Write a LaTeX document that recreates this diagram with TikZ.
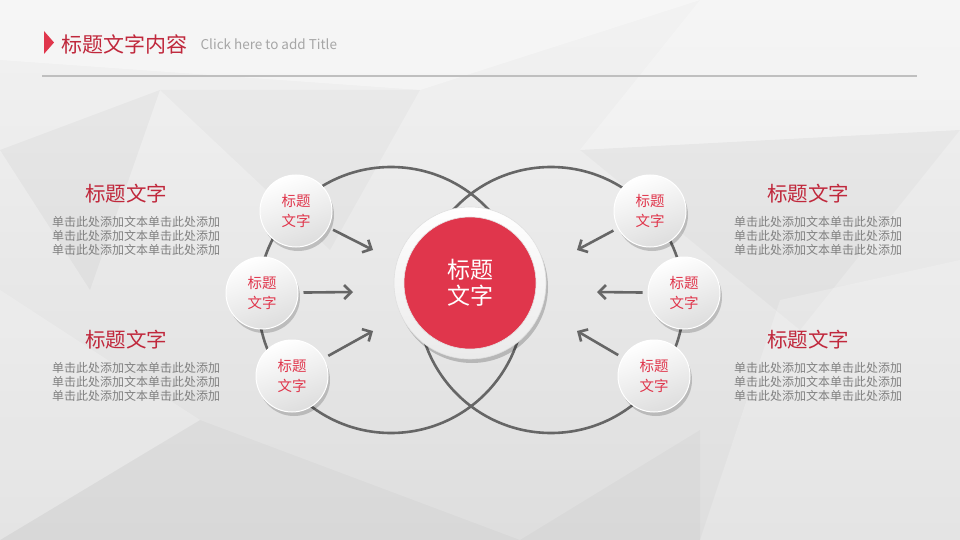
\documentclass[tikz,border=0pt]{standalone}
\usepackage{fontspec}
\setmainfont{Noto Sans CJK SC}
\definecolor{myred}{RGB}{224,54,76}
\definecolor{mydarkred}{RGB}{192,40,60}
\definecolor{mygray}{RGB}{102,102,102}
\definecolor{mytext}{RGB}{128,128,128}
\usetikzlibrary{positioning,shadows,arrows.meta,calc}

\begin{document}
\begin{tikzpicture}[
  x=1pt, y=-1pt,
  ring/.style={draw=mygray, line width=2.6pt},
  arr/.style={draw=mygray, line width=2.6pt, -{Straight Barb[length=7pt,width=14pt,line width=2.6pt]}, shorten <=5pt},
  ball/.style={
    circle, minimum size=72pt, inner sep=0pt,
    top color=white, bottom color=black!13, shading angle=20,
    draw=white, line width=1pt,
    drop shadow={shadow xshift=2pt, shadow yshift=-4pt, opacity=0.18, fill=black},
    text=myred, font=\fontsize{14.5}{19.5}\selectfont, align=center
    },
  head/.style={text=mydarkred, font=\fontsize{20.5}{24}\selectfont},
  body/.style={text=mytext, font=\fontsize{12}{14}\selectfont, align=center}
]
\useasboundingbox (0,0) rectangle (960,540);

% background
\shade[top color=black!5, bottom color=black!13] (0,0) rectangle (960,540);
\fill[white, opacity=0.35] (0,0) -- (700,0) -- (420,90) -- (0,60) -- cycle;
\fill[white, opacity=0.25] (700,0) -- (960,0) -- (960,130) -- (580,150) -- cycle;
\fill[black, opacity=0.025] (160,90) -- (420,90) -- (330,250) -- cycle;
\fill[black, opacity=0.03] (0,150) -- (160,90) -- (90,290) -- cycle;
\fill[black, opacity=0.025] (580,150) -- (960,130) -- (800,330) -- cycle;
\fill[white, opacity=0.2] (0,290) -- (200,420) -- (0,540) -- cycle;
\fill[black, opacity=0.025] (200,420) -- (520,540) -- (0,540) -- cycle;
\fill[white, opacity=0.2] (780,300) -- (960,260) -- (960,540) -- (700,540) -- cycle;
\fill[black, opacity=0.025] (520,540) -- (700,430) -- (700,540) -- cycle;

% header
\fill[myred] (44,31) -- (54,42.5) -- (44,54) -- cycle;
\node[text=mydarkred, font=\fontsize{21}{24}\selectfont, anchor=west, inner sep=0pt] (title) at (61,44) {标题文字内容};
\node[anchor=west, inner sep=0pt, text=black!35, font=\fontsize{13.5}{15}\selectfont, right=13pt of title] (sub) {Click here to add Title};
\draw[black!25, line width=1.2pt] (42,76) -- (917,76);

% rings
\coordinate (lc) at (391,300);
\coordinate (rc) at (551,300);
\draw[ring] (lc) circle[radius=133];
\draw[ring] (rc) circle[radius=133];

% centre
\node[circle, minimum size=152pt, inner sep=0pt, top color=white, bottom color=black!8,
  draw=black!12, line width=0.6pt,
  drop shadow={shadow xshift=2pt, shadow yshift=-4pt, opacity=0.2, fill=black}] (c) at (470,283) {};
\node[circle, minimum size=132pt, inner sep=0pt, fill=myred, draw=black!10, line width=0.6pt,
  text=white, font=\fontsize{23}{26}\selectfont, align=center] (ci) at (c.center) {标题\\文字};

% small circles
\node[ball] (lt) at (296,211) {标题\\文字};
\node[ball] (lm) at (262,293) {标题\\文字};
\node[ball] (lb) at (292,376) {标题\\文字};
\node[ball] (rt) at (650,211) {标题\\文字};
\node[ball] (rm) at (684,293) {标题\\文字};
\node[ball] (rb) at (654,376) {标题\\文字};

% arrows
\coordinate (in-lt) at (373,250);
\coordinate (in-lm) at (353,292);
\coordinate (in-lb) at (373,331);
\coordinate (in-rt) at (577,250);
\coordinate (in-rm) at (597,292);
\coordinate (in-rb) at (577,331);
\foreach \Src/\Dst in {lt/in-lt, lm/in-lm, lb/in-lb, rt/in-rt, rm/in-rm, rb/in-rb}
  \draw[arr] (\Src) -- (\Dst);

% text blocks
\node[head] (tl) at (126,194) {标题文字};
\node[body] (bl) at (136,236) {单击此处添加文本单击此处添加\\单击此处添加文本单击此处添加\\单击此处添加文本单击此处添加};
\node[head] (tl2) at (126,340) {标题文字};
\node[body] (bl2) at (136,382) {单击此处添加文本单击此处添加\\单击此处添加文本单击此处添加\\单击此处添加文本单击此处添加};
\node[head] (tr) at (808,194) {标题文字};
\node[body] (br) at (818,236) {单击此处添加文本单击此处添加\\单击此处添加文本单击此处添加\\单击此处添加文本单击此处添加};
\node[head] (tr2) at (808,340) {标题文字};
\node[body] (br2) at (818,382) {单击此处添加文本单击此处添加\\单击此处添加文本单击此处添加\\单击此处添加文本单击此处添加};

\end{tikzpicture}
\end{document}
